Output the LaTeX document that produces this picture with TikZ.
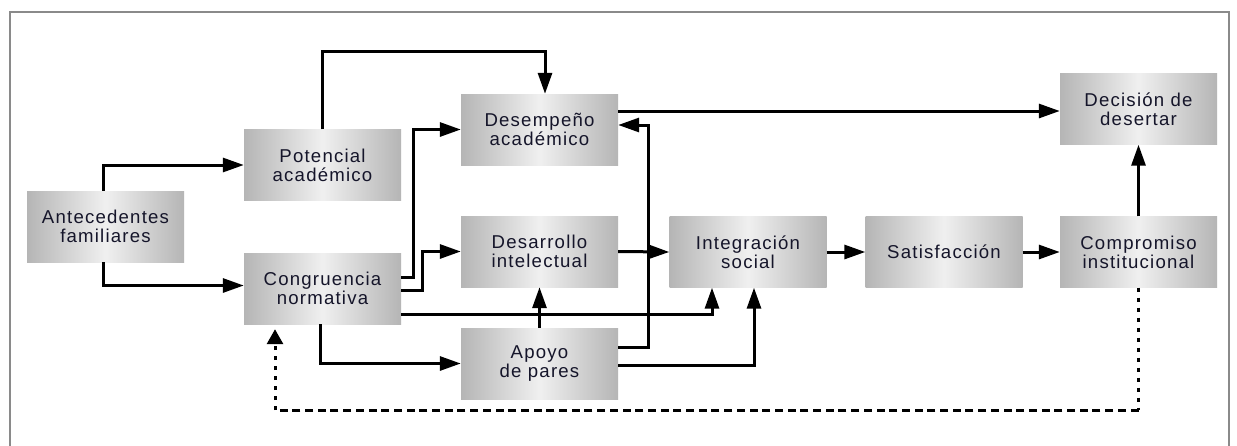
\documentclass[tikz,border=0pt]{standalone}
\usepackage{fontspec}
\setmainfont{Liberation Sans}
\usetikzlibrary{arrows.meta,calc}
\definecolor{txt}{HTML}{15152A}
\definecolor{framec}{HTML}{8A8A8A}
\tikzset{
 box/.style={rectangle, minimum width=157pt, minimum height=71pt, inner sep=0pt,
   left color=black!29, right color=black!29, middle color=black!6,
   text=txt, align=center,
   font=\fontsize{18.6}{19}\selectfont\addfontfeatures{LetterSpace=6.5}},
 conn/.style={line width=3pt, -{Triangle[length=21pt,width=14pt]}},
 dotline/.style={line width=3pt, dash pattern=on 4pt off 6pt},
 dashline/.style={line width=3pt, dash pattern=on 8pt off 4.7pt},
}
\begin{document}
\begin{tikzpicture}[x=1pt,y=-1pt]
\clip (0,0) rectangle (1237,445);
\fill[white] (0,0) rectangle (1237,445);
\draw[framec, line width=1.6pt] (10,470) -- (10,12) -- (1229,12) -- (1229,470);

\node[box] (ante)  at (105.5,226.5) {Antecedentes\\familiares};
\node[box] (pot)   at (322.5,165)   {Potencial\\académico};
\node[box] (cong)  at (322.5,288.5) {Congruencia\\normativa};
\node[box] (desem) at (539.5,129.5) {Desempeño\\académico};
\node[box] (desar) at (539.5,251.5) {Desarrollo\\intelectual};
\node[box] (apoyo) at (539.5,363.5) {Apoyo\\de pares};
\node[box] (integ) at (748,252)     {Integración\\social};
\node[box] (satis) at (944,252)     {Satisfacción};
\node[box] (comp)  at (1138.5,252)  {Compromiso\\institucional};
\node[box] (decis) at (1138.5,109)  {Decisión de\\desertar};

\draw[conn] ([xshift=-2.5pt]ante.north) |- (pot.west);
\draw[conn] ([xshift=-2.5pt]ante.south) |- ([yshift=3pt]cong.west);
\draw[conn] (pot.north) -- ++(0,-77.5) -| ([xshift=5.5pt]desem.north);
\draw[conn] ([yshift=11.5pt]cong.east) -- ++(12,0) |- (desem.west);
\draw[conn] ([yshift=-1.5pt]cong.east) -- ++(21,0) |- (desar.west);
\draw[conn] ([yshift=-25.5pt]cong.east) -| ([xshift=-36pt]integ.south);
\draw[conn] ([xshift=-2.5pt]cong.south) |- (apoyo.west);
\draw[conn] (apoyo.north) -- (desar.south);
\draw[conn] ([yshift=16.5pt]apoyo.east) -- ++(30,0) |- ([yshift=4.5pt]desem.east);
\draw[conn] ([yshift=-1.5pt]apoyo.east) -| ([xshift=6pt]integ.south);
\draw[conn] (desar.east) -- (integ.west);
\draw[conn] ([yshift=18.5pt]desem.east) -- ([yshift=-2pt]decis.west);
\draw[conn] (integ.east) -- (satis.west);
\draw[conn] (satis.east) -- (comp.west);
\draw[conn] (comp.north) -- (decis.south);

\draw[dotline] (comp.south) -- (1138.5,410) coordinate (d1);
\draw[dashline] (d1) -- (275,410) coordinate (d2);
\draw[dotline] (d2) -- (275,344) coordinate (d3);
\draw[line width=3pt, -{Triangle[length=15pt,width=16pt]}] (d3) -- ([xshift=-47.5pt,yshift=-5pt]cong.south);
\end{tikzpicture}
\end{document}
